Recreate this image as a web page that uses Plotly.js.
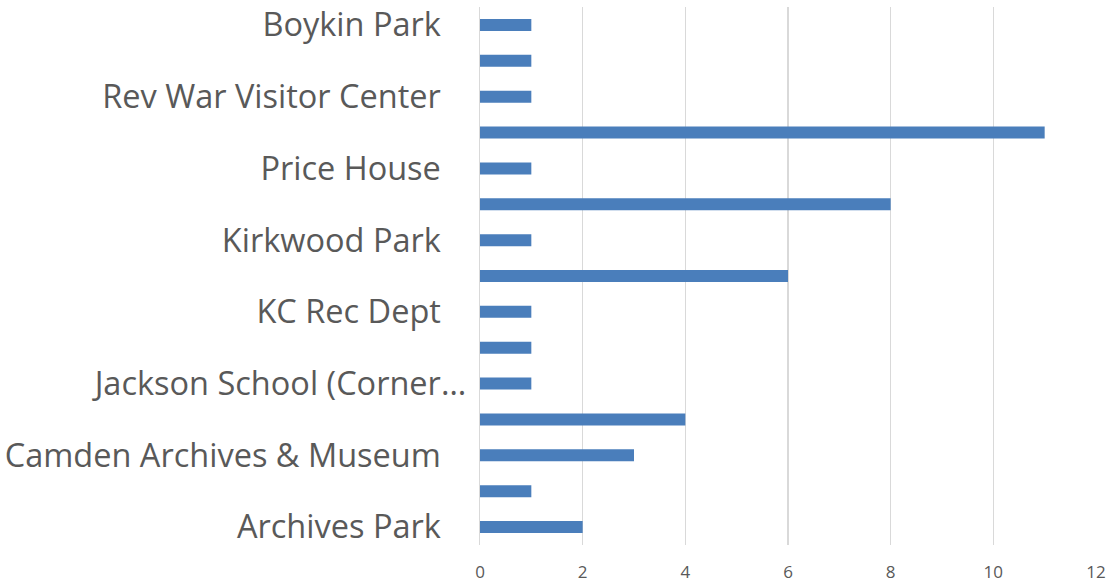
<!DOCTYPE html>
<html>
<head>
<meta charset="utf-8">
<script src="https://cdn.plot.ly/plotly-3.0.1.min.js"></script>
<style>html,body{margin:0;padding:0;background:#fff;}#chart{width:1112px;height:586px;}</style>
</head>
<body>
<div id="chart"></div>
<script>
// Categories listed bottom to top (every other label is shown on the axis)
const categories = [
  "Archives Park",
  "Bethesda Church",
  "Camden Archives & Museum",
  "City Hall",
  "Jackson School (Corner…",
  "Kershaw County Library",
  "KC Rec Dept",
  "Kendall Lake",
  "Kirkwood Park",
  "Historic Camden",
  "Price House",
  "Rectory Square",
  "Rev War Visitor Center",
  "Scott Park",
  "Boykin Park"
];
const values = [2, 1, 3, 4, 1, 1, 1, 6, 1, 8, 1, 11, 1, 1, 1];
const shownLabels = [
  "Archives Park", "Camden Archives & Museum", "Jackson School (Corner…",
  "KC Rec Dept", "Kirkwood Park", "Price House", "Rev War Visitor Center", "Boykin Park"
];
const xTicks = [0, 2, 4, 6, 8, 10, 12];

const pad = "\u00a0\u00a0\u00a0";
const tickText = shownLabels.map(s => s.endsWith("…") ? s : s + pad);

const trace = {
  type: "bar",
  orientation: "h",
  y: categories,
  x: values,
  marker: {color: "#4a7ebb"},
  hoverinfo: "x+y"
};

const layout = {
  width: 1112,
  height: 586,
  margin: {l: 480, r: 16, t: 7, b: 41},
  paper_bgcolor: "#ffffff",
  plot_bgcolor: "#ffffff",
  bargap: 0.665,
  showlegend: false,
  font: {family: "Open Sans, sans-serif", color: "#595959"},
  xaxis: {
    range: [0, 12],
    tickvals: xTicks,
    ticktext: xTicks.map(String),
    showgrid: true,
    gridcolor: "#d9d9d9",
    gridwidth: 1.3,
    zeroline: false,
    showline: false,
    ticks: "",
    tickfont: {size: 17, color: "#595959"},
    ticklabelstandoff: 15
  },
  yaxis: {
    type: "category",
    categoryorder: "array",
    categoryarray: categories,
    tickmode: "array",
    tickvals: shownLabels,
    ticktext: tickText,
    showgrid: false,
    zeroline: false,
    showline: true,
    linecolor: "#d9d9d9",
    linewidth: 1.3,
    ticks: "",
    tickfont: {size: 32.5, color: "#595959"},
    ticklabelstandoff: 6
  }
};

Plotly.newPlot("chart", [trace], layout, {displayModeBar: false, staticPlot: true});
</script>
</body>
</html>
